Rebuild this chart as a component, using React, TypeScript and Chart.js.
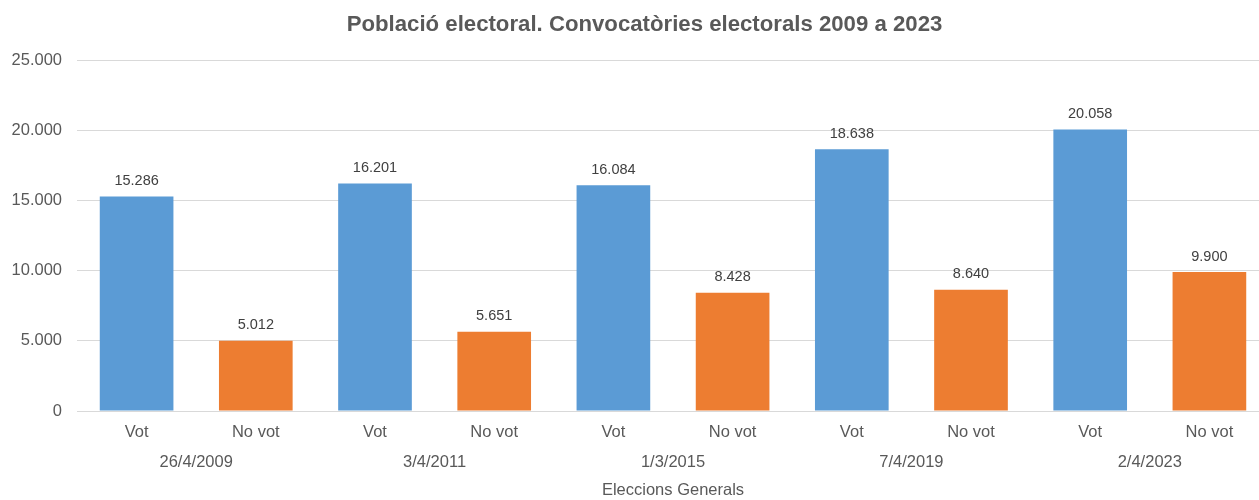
import React, { useEffect, useRef } from "react";
import { Chart, registerables } from "chart.js";

Chart.register(...registerables);

const TITLE = "Població electoral. Convocatòries electorals 2009 a 2023";
const AXIS_TITLE = "Eleccions Generals";
const categories = ["Vot", "No vot", "Vot", "No vot", "Vot", "No vot", "Vot", "No vot", "Vot", "No vot"];
const dates = ["26/4/2009", "3/4/2011", "1/3/2015", "7/4/2019", "2/4/2023"];
const values = [15286, 5012, 16201, 5651, 16084, 8428, 18638, 8640, 20058, 9900];
const yTicks = [0, 5000, 10000, 15000, 20000, 25000];

const BLUE = "#5B9BD5";
const ORANGE = "#ED7D31";
const FONT = "'Liberation Sans', Arial, Helvetica, sans-serif";

const fmt = (v: number) => String(Math.round(v)).replace(/\B(?=(\d{3})+(?!\d))/g, ".");

const labelPlugin = {
  id: "valueLabels",
  afterDatasetsDraw(chart: any) {
    const ctx = chart.ctx;
    const meta = chart.getDatasetMeta(0);
    ctx.save();
    ctx.font = `14.5px ${FONT}`;
    ctx.fillStyle = "#404040";
    ctx.textAlign = "center";
    ctx.textBaseline = "bottom";
    meta.data.forEach((bar: any, i: number) => {
      ctx.fillText(fmt(values[i]), bar.x, bar.y - 8);
    });
    ctx.restore();
  },
};

const titlePlugin = {
  id: "centeredTitle",
  afterDraw(chart: any) {
    const ctx = chart.ctx;
    ctx.save();
    ctx.font = `bold 22.2px ${FONT}`;
    ctx.fillStyle = "#595959";
    ctx.textAlign = "center";
    ctx.textBaseline = "alphabetic";
    ctx.fillText(TITLE, chart.width / 2, 31);
    ctx.restore();
  },
};

export default function App() {
  const ref = useRef<HTMLCanvasElement | null>(null);
  useEffect(() => {
    if (!ref.current) return;
    const chart = new Chart(ref.current, {
      type: "bar",
      data: {
        labels: categories,
        datasets: [
          {
            data: values,
            backgroundColor: values.map((_, i) => (i % 2 === 0 ? BLUE : ORANGE)),
            barPercentage: 0.618,
            categoryPercentage: 1,
            xAxisID: "x",
          },
        ],
      },
      options: {
        animation: false,
        responsive: false,
        maintainAspectRatio: false,
        layout: { padding: { left: 0, right: 20, top: 60, bottom: 0 } },
        plugins: {
          legend: { display: false },
          tooltip: { enabled: false },
          title: { display: false },
        },
        scales: {
          x: {
            type: "category",
            position: "bottom",
            grid: { display: false, drawTicks: false },
            border: { display: false },
            ticks: { color: "#595959", font: { family: FONT, size: 16.5 }, padding: 12, maxRotation: 0, autoSkip: false },
            afterFit: (s: any) => { s.height = 38; },
          },
          x2: {
            type: "category",
            position: "bottom",
            labels: dates,
            offset: true,
            grid: { display: false, drawTicks: false },
            border: { display: false },
            ticks: { color: "#595959", font: { family: FONT, size: 16.5 }, padding: 4, maxRotation: 0, autoSkip: false },
            title: {
              display: true,
              text: AXIS_TITLE,
              color: "#595959",
              font: { family: FONT, size: 16.5 },
              padding: { top: 0, bottom: 0 },
            },
            afterFit: (s: any) => { s.height = 51; },
          },
          y: {
            min: 0,
            max: 25000,
            afterBuildTicks: (s: any) => { s.ticks = yTicks.map((v) => ({ value: v })); },
            grid: { color: "#D9D9D9", lineWidth: 1, drawTicks: false },
            border: { display: false },
            ticks: {
              color: "#595959",
              font: { family: FONT, size: 16.5 },
              padding: 15,
              callback: (v: any) => fmt(Number(v)),
            },
            afterFit: (s: any) => { s.width = 77; },
          },
        },
      },
      plugins: [labelPlugin, titlePlugin],
    } as any);
    return () => chart.destroy();
  }, []);
  return (
    <div style={{ position: "absolute", left: 0, top: 0, width: 1259, height: 500, overflow: "hidden", background: "#fff" }}>
      <canvas ref={ref} width={1289} height={500} style={{ display: "block" }} />
    </div>
  );
}
